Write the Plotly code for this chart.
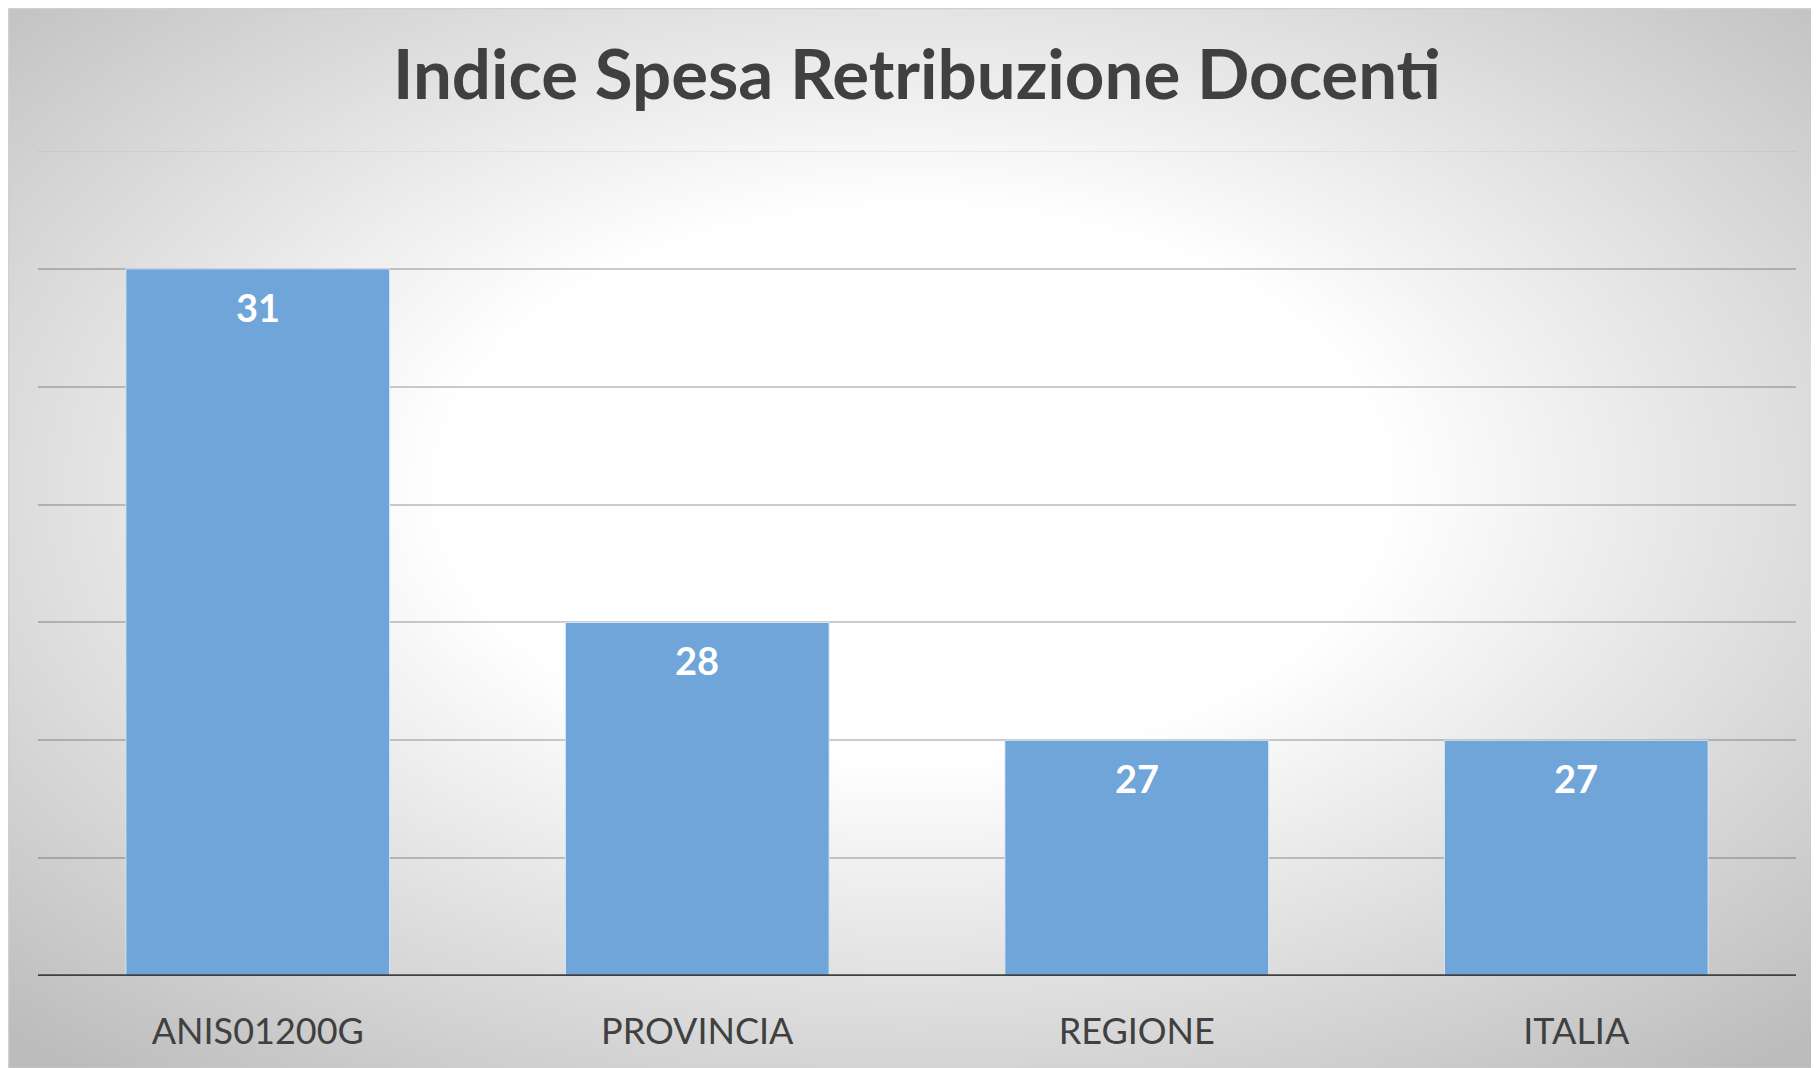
import base64
import plotly.graph_objects as go

categories = ["ANIS01200G", "PROVINCIA", "REGIONE", "ITALIA"]
values = [31, 28, 27, 27]
title_text = "Indice Spesa Retribuzione Docenti"
grid_vals = [26, 27, 28, 29, 30, 31]
y_min, y_max = 25, 32

# page body has 8px margin, so the figure is shifted by 8px
W, H = 1811, 1060
L, R, T, B = 30, 23, 143, 92
pw, ph = W - L - R, H - T - B

bx0, by0 = 0, 0
bw, bh = W - bx0, H - by0
svg = f'''<svg xmlns="http://www.w3.org/2000/svg" width="{bw}" height="{bh}" viewBox="0 0 {bw} {bh}" preserveAspectRatio="none">
<defs><radialGradient id="g" cx="0.5" cy="0.45" r="0.72" gradientUnits="objectBoundingBox">
<stop offset="0" stop-color="#ffffff"/><stop offset="0.36" stop-color="#ffffff"/>
<stop offset="1" stop-color="#bcbcbc"/></radialGradient></defs>
<rect x="0" y="0" width="{bw}" height="{bh}" fill="url(#g)"/>
<rect x="0.5" y="0.5" width="{bw}" height="{bh}" fill="none" stroke="#d0d0d0" stroke-width="1.5"/>
</svg>'''
src = "data:image/svg+xml;base64," + base64.b64encode(svg.encode()).decode()

fig = go.Figure()
fig.add_trace(go.Bar(
    x=categories, y=values, width=0.6,
    marker=dict(color="#6fa5d8", line=dict(color="rgba(220,235,250,0.9)", width=1)),
    hoverinfo="x+y",
))

annotations = [dict(x=c, y=v, xref="x", yref="y", text=str(v), showarrow=False,
                    yanchor="middle", yshift=-38,
                    font=dict(family="Lato", size=38, color="white", weight="bold"))
               for c, v in zip(categories, values)]

fig.update_layout(
    width=W, height=H,
    margin=dict(l=L, r=R, t=T, b=B, pad=0),
    paper_bgcolor="white", plot_bgcolor="rgba(0,0,0,0)",
    showlegend=False,
    annotations=annotations,
    title=dict(text=title_text, x=0.5, xanchor="center", xref="paper",
               y=1 - 67 / H, yanchor="middle", yref="container",
               font=dict(family="Lato", size=69, color="#404040", weight="bold")),
    images=[dict(source=src, xref="paper", yref="paper",
                 x=(bx0 - L) / pw, y=(H - B - by0) / ph,
                 sizex=bw / pw, sizey=bh / ph, sizing="stretch",
                 xanchor="left", yanchor="top", layer="below")],
    xaxis=dict(showgrid=False, showline=False, ticks="",
               tickfont=dict(family="Lato", size=36, color="#404040"),
               ticklabelstandoff=31, zeroline=False),
    yaxis=dict(range=[y_min, y_max], tickmode="array", tickvals=grid_vals,
               showgrid=True, gridcolor="rgba(0,0,0,0.2)", gridwidth=1.5,
               showticklabels=False, zeroline=False, showline=False, ticks=""),
    shapes=[dict(type="line", xref="paper", yref="y", x0=0, x1=1, y0=y_max, y1=y_max,
                 line=dict(color="rgba(0,0,0,0.07)", width=1.5), layer="below"),
            dict(type="line", xref="paper", yref="y", x0=0, x1=1, y0=y_min, y1=y_min,
                 line=dict(color="#404040", width=3.5))],
)
fig.write_html("out.html")
